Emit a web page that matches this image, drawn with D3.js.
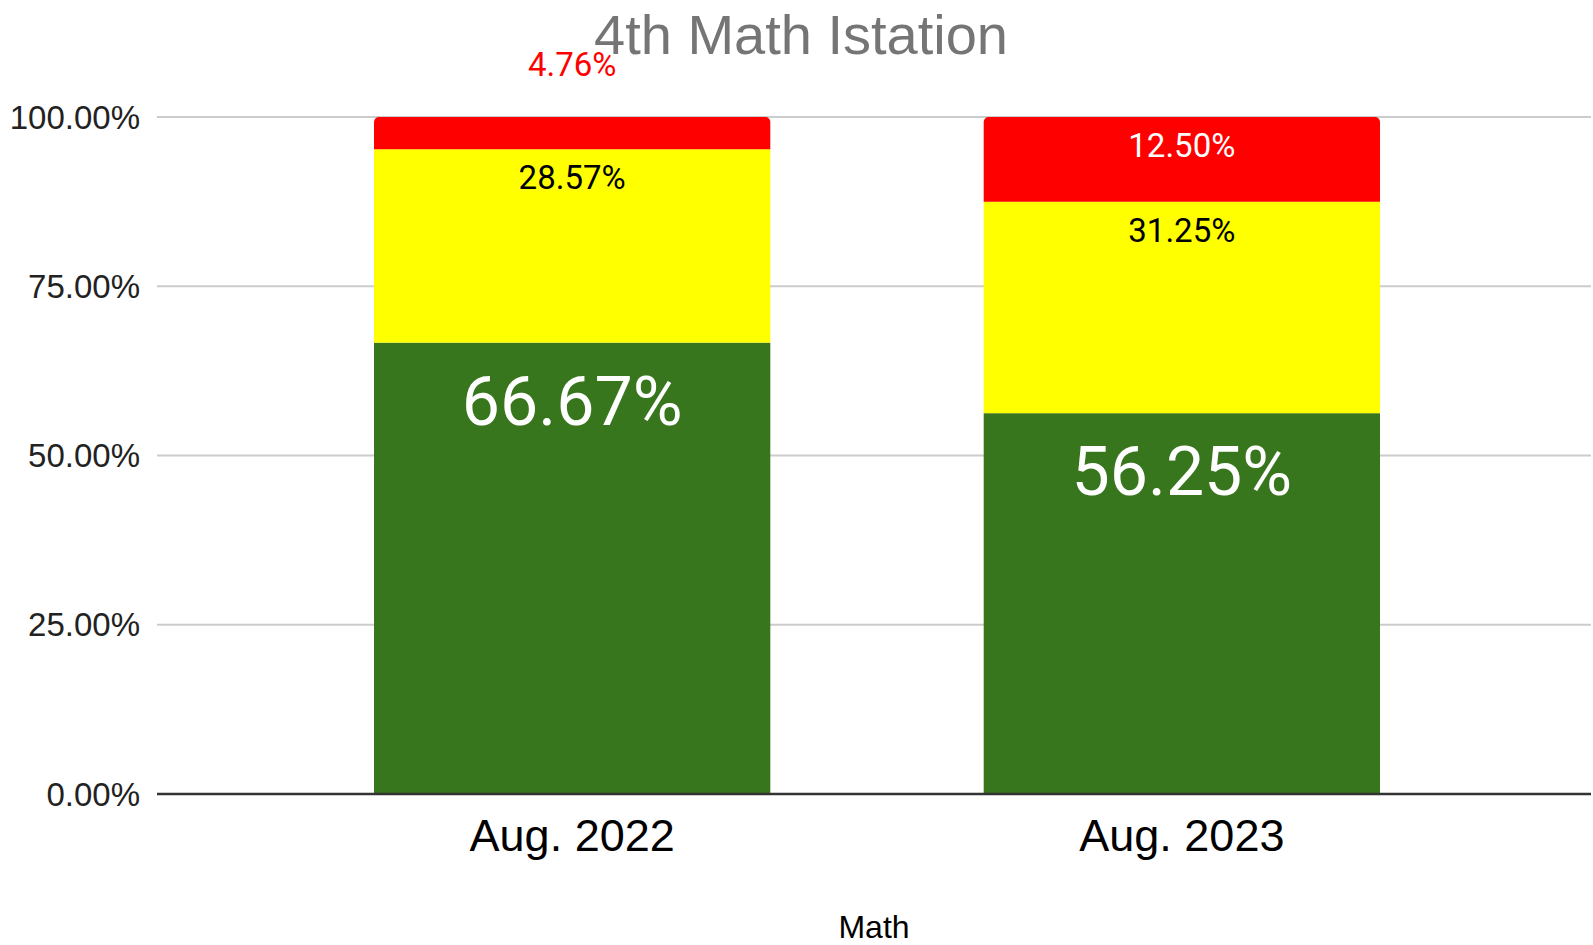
<!DOCTYPE html>
<html>
<head>
<meta charset="utf-8">
<script src="https://cdn.jsdelivr.net/npm/d3@7"></script>
<style>
  html, body { margin: 0; padding: 0; background: #fff; }
  svg { display: block; }
</style>
</head>
<body>
<svg id="chart" width="1593" height="945"></svg>
<script>
const categories = ["Aug. 2022", "Aug. 2023"];
const seriesNames = ["Green", "Yellow", "Red"];
const greenValues = [66.67, 56.25];
const yellowValues = [28.57, 31.25];
const redValues = [4.76, 12.50];
const yTicks = [0, 25, 50, 75, 100];
const seriesColors = ["#38761d", "#ffff00", "#ff0000"];
const labelColors = ["#ffffff", "#000000", "#ffffff"];
const labelSizes = [68, 33, 33];
const titleText = "4th Math Istation";
const xAxisTitle = "Math";

const svg = d3.select("#chart");
const W = 1593, H = 945;
const margin = { left: 157, right: 2, top: 117, bottom: 151 };
const plotW = W - margin.left - margin.right;
const plotH = H - margin.top - margin.bottom;

const x = d3.scaleBand().domain(categories).range([margin.left + 3, margin.left + plotW + 3])
  .paddingInner(0.35).paddingOuter(0.351);
const y = d3.scaleLinear().domain([0, 100]).range([margin.top + plotH, margin.top]);

const valuesBySeries = [greenValues, yellowValues, redValues];
const rows = categories.map((c, i) => {
  const r = { cat: c };
  seriesNames.forEach((s, k) => r[s] = valuesBySeries[k][i]);
  return r;
});
const stacked = d3.stack().keys(seriesNames)(rows);

// gridlines
svg.append("g").selectAll("line").data(yTicks.filter(t => t !== 0)).join("line")
  .attr("x1", margin.left).attr("x2", margin.left + plotW)
  .attr("y1", d => y(d)).attr("y2", d => y(d))
  .attr("stroke", "#cccccc").attr("stroke-width", 2);

// y axis labels
const yAxis = d3.axisLeft(y).tickValues(yTicks).tickSize(0).tickPadding(17)
  .tickFormat(d => d.toFixed(2) + "%");
const ya = svg.append("g").attr("transform", `translate(${margin.left},0)`).call(yAxis);
ya.select(".domain").remove();
ya.selectAll("text").attr("font-family", "'Liberation Sans', Arial, sans-serif")
  .attr("font-size", 33).attr("fill", "#222").attr("dy", "0.34em");

// bars
function topRounded(x0, y0, w, h, r) {
  const p = d3.path();
  p.moveTo(x0, y0 + h);
  p.lineTo(x0, y0 + r);
  p.arcTo(x0, y0, x0 + r, y0, r);
  p.lineTo(x0 + w - r, y0);
  p.arcTo(x0 + w, y0, x0 + w, y0 + r, r);
  p.lineTo(x0 + w, y0 + h);
  p.closePath();
  return p.toString();
}

stacked.forEach((layer, k) => {
  const g = svg.append("g");
  layer.forEach((d, i) => {
    const x0 = x(categories[i]);
    const yTop = y(d[1]), yBot = y(d[0]);
    const isTop = k === stacked.length - 1;
    if (isTop) {
      g.append("path").attr("d", topRounded(x0, yTop, x.bandwidth(), yBot - yTop, 5))
        .attr("fill", seriesColors[k]);
    } else {
      g.append("rect").attr("x", x0).attr("y", yTop).attr("width", x.bandwidth())
        .attr("height", yBot - yTop).attr("fill", seriesColors[k]);
    }
  });
});

// data labels
stacked.forEach((layer, k) => {
  layer.forEach((d, i) => {
    const fs = labelSizes[k];
    const yTop = y(d[1]), yBot = y(d[0]);
    const segH = yBot - yTop;
    const cx = x(categories[i]) + x.bandwidth() / 2;
    const val = d[1] - d[0];
    const fits = segH > fs * 1.8;
    svg.append("text")
      .attr("x", cx)
      .attr("y", fits ? yTop + fs * 1.21 : yTop - fs * 1.24)
      .attr("text-anchor", "middle")
      .attr("font-family", "Roboto, 'Noto Sans', sans-serif")
      .attr("font-size", fs)
      .attr("fill", fits ? labelColors[k] : seriesColors[k])
      .text(val.toFixed(2) + "%");
  });
});

// baseline
svg.append("line").attr("x1", margin.left).attr("x2", margin.left + plotW)
  .attr("y1", y(0)).attr("y2", y(0)).attr("stroke", "#333").attr("stroke-width", 2.5);

// x axis labels
const xAxis = d3.axisBottom(x).tickSize(0).tickPadding(25);
const xa = svg.append("g").attr("transform", `translate(0,${y(0)})`).call(xAxis);
xa.select(".domain").remove();
xa.selectAll("text").attr("font-family", "'Liberation Sans', Arial, sans-serif")
  .attr("font-size", 45).attr("fill", "#000");

// axis title
svg.append("text").attr("x", margin.left + plotW / 2).attr("y", 938)
  .attr("text-anchor", "middle").attr("font-family", "'Liberation Sans', Arial, sans-serif")
  .attr("font-size", 32).attr("fill", "#000").text(xAxisTitle);

// chart title
svg.append("text").attr("x", 801).attr("y", 54)
  .attr("text-anchor", "middle").attr("font-family", "'Liberation Sans', Arial, sans-serif")
  .attr("font-size", 56).attr("fill", "#757575").text(titleText);
</script>
</body>
</html>
